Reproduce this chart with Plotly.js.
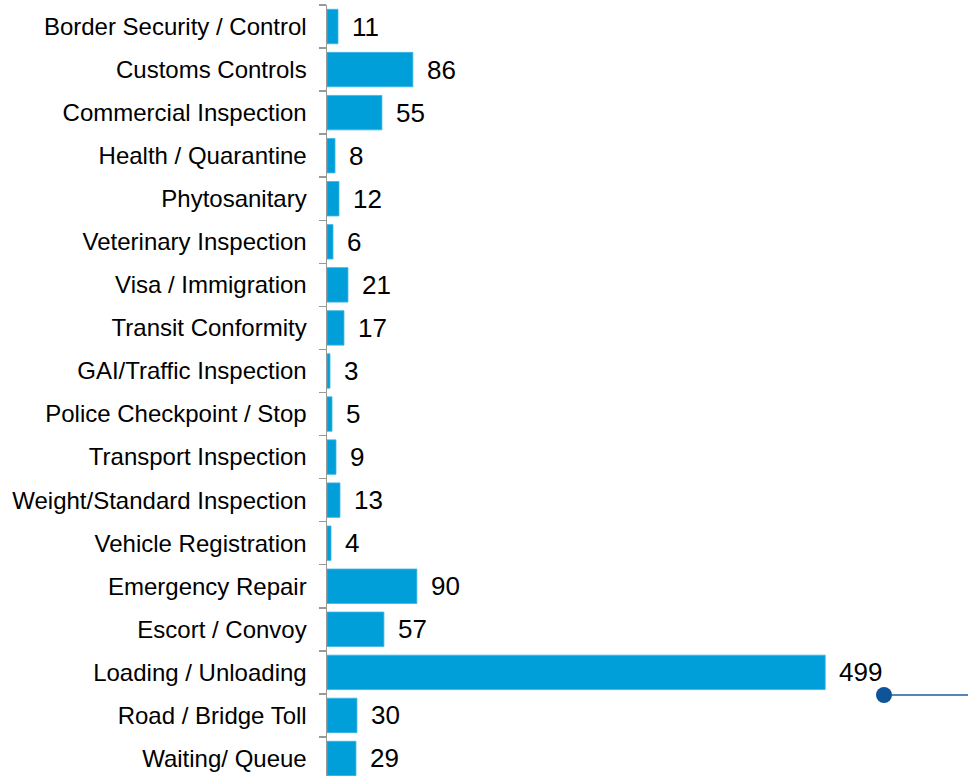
<!DOCTYPE html>
<html>
<head>
<meta charset="utf-8">
<script src="https://cdn.plot.ly/plotly-3.0.1.min.js"></script>
<style>
html,body{margin:0;padding:0;overflow:hidden;background:#fff;}
#chart{width:968px;height:780px;}
</style>
</head>
<body>
<div id="chart"></div>
<script>
const categories = [
  "Border Security / Control",
  "Customs Controls",
  "Commercial Inspection",
  "Health / Quarantine",
  "Phytosanitary",
  "Veterinary Inspection",
  "Visa / Immigration",
  "Transit Conformity",
  "GAI/Traffic Inspection",
  "Police Checkpoint / Stop",
  "Transport Inspection",
  "Weight/Standard Inspection",
  "Vehicle Registration",
  "Emergency Repair",
  "Escort / Convoy",
  "Loading / Unloading",
  "Road / Bridge Toll",
  "Waiting/ Queue"
];
const values = [11, 86, 55, 8, 12, 6, 21, 17, 3, 5, 9, 13, 4, 90, 57, 499, 30, 29];

const barColor = "#009fda";
const font = "Liberation Sans, Arial, sans-serif";

const trace = {
  type: "bar",
  orientation: "h",
  y: categories,
  x: values,
  marker: {color: barColor, line: {color: "#3db4e3", width: 0.8}},
  hoverinfo: "x+y"
};

const annotations = categories.map((c, i) => ({
  x: values[i],
  y: c,
  xref: "x",
  yref: "y",
  text: String(values[i]),
  showarrow: false,
  xanchor: "left",
  yanchor: "middle",
  xshift: 12,
  font: {family: font, size: 26, color: "#000"}
}));

const layout = {
  width: 968,
  height: 780,
  margin: {l: 327, r: 0, t: 5, b: 0, pad: 0},
  paper_bgcolor: "#fff",
  plot_bgcolor: "#fff",
  showlegend: false,
  bargap: 0.2,
  xaxis: {
    range: [0, 642],
    visible: false,
    showgrid: false,
    zeroline: false
  },
  yaxis: {
    autorange: "reversed",
    type: "category",
    showline: true,
    linecolor: "#999999",
    linewidth: 1.5,
    ticks: "outside",
    tickson: "boundaries",
    ticklen: 7,
    tickcolor: "#999999",
    tickwidth: 1.5,
    showgrid: false,
    zeroline: false,
    ticklabelstandoff: 14,
    tickfont: {family: font, size: 24, color: "#000"}
  },
  annotations: annotations,
  shapes: [
    {
      type: "line", xref: "paper", yref: "paper",
      x0: (884 - 327) / 641, x1: 1.0,
      y0: 1 - (695 - 5) / 775, y1: 1 - (695 - 5) / 775,
      line: {color: "#1a5ca0", width: 1.6}
    },
    {
      type: "circle", xref: "paper", yref: "paper",
      xsizemode: "pixel", ysizemode: "pixel",
      xanchor: (884 - 327) / 641, yanchor: 1 - (695 - 5) / 775,
      x0: -8, x1: 8, y0: -8, y1: 8,
      fillcolor: "#0f5398", line: {color: "#0f5398", width: 0}
    }
  ]
};

Plotly.newPlot("chart", [trace], layout, {displayModeBar: false, staticPlot: true});
</script>
</body>
</html>
